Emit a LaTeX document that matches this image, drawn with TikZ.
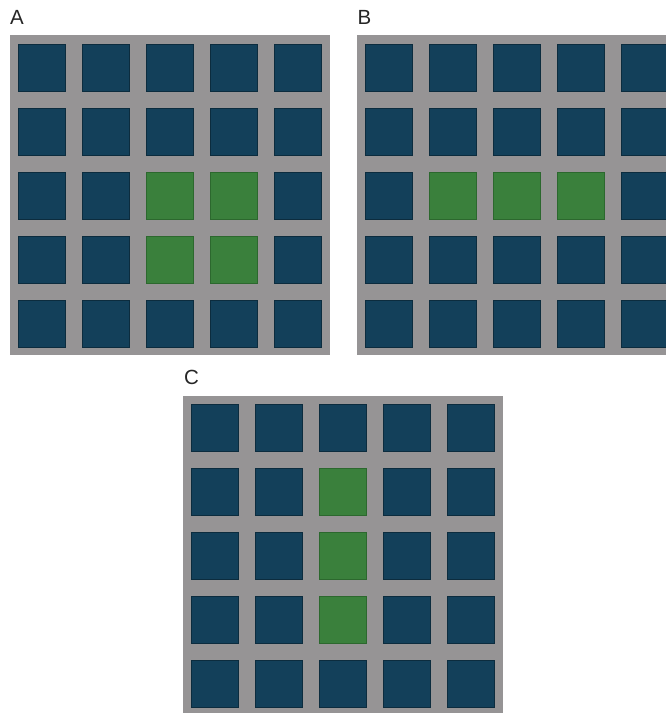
\documentclass[tikz,border=0pt]{standalone}
\usepackage{fontspec}
\setmainfont{Liberation Sans}
\definecolor{panelgray}{RGB}{150,148,149}
\definecolor{cellblue}{RGB}{19,64,90}
\definecolor{cellblueedge}{RGB}{12,44,62}
\definecolor{cellgreen}{RGB}{58,128,60}
\definecolor{cellgreenedge}{RGB}{44,104,46}
\begin{document}
\begin{tikzpicture}[x=1pt,y=-1pt,
  panel/.style={fill=panelgray,draw=none},
  bluecell/.style={fill=cellblue,draw=cellblueedge,line width=1pt,minimum size=47pt,inner sep=0pt,anchor=north west},
  greencell/.style={fill=cellgreen,draw=cellgreenedge,line width=1pt,minimum size=47pt,inner sep=0pt,anchor=north west},
  lbl/.style={font=\fontsize{20.5}{22}\selectfont,inner sep=0pt,anchor=north west,text=black!85}]
\useasboundingbox (0,0) rectangle (666,713);
\clip (0,0) rectangle (666,713);
\fill[white] (0,0) rectangle (666,713);
% labels
\node[lbl] (labA) at (10,10) {A};
\node[lbl] (labB) at (357.5,10) {B};
\node[lbl] (labC) at (184,370) {C};
% panels
\fill[panel] (10,35) rectangle (330,355);
\fill[panel] (357,35) rectangle (677,355);
\fill[panel] (183,396) rectangle (503,716);
% cells
\foreach \i in {0,...,4}{
  \foreach \j in {0,...,4}{
    % Panel A
    \pgfmathtruncatemacro{\ga}{(\i==2 || \i==3) && (\j==2 || \j==3)}
    \ifnum\ga=1
      \node[greencell] (A-\i-\j) at ({18+64*\j},{43.5+64*\i}) {};
    \else
      \node[bluecell] (A-\i-\j) at ({18+64*\j},{43.5+64*\i}) {};
    \fi
    % Panel B
    \pgfmathtruncatemacro{\gb}{(\i==2) && (\j>=1) && (\j<=3)}
    \ifnum\gb=1
      \node[greencell] (B-\i-\j) at ({365+64*\j},{43.5+64*\i}) {};
    \else
      \node[bluecell] (B-\i-\j) at ({365+64*\j},{43.5+64*\i}) {};
    \fi
    % Panel C
    \pgfmathtruncatemacro{\gc}{(\j==2) && (\i>=1) && (\i<=3)}
    \ifnum\gc=1
      \node[greencell] (C-\i-\j) at ({191+64*\j},{403.5+64*\i}) {};
    \else
      \node[bluecell] (C-\i-\j) at ({191+64*\j},{403.5+64*\i}) {};
    \fi
  }
}
\end{tikzpicture}
\end{document}
